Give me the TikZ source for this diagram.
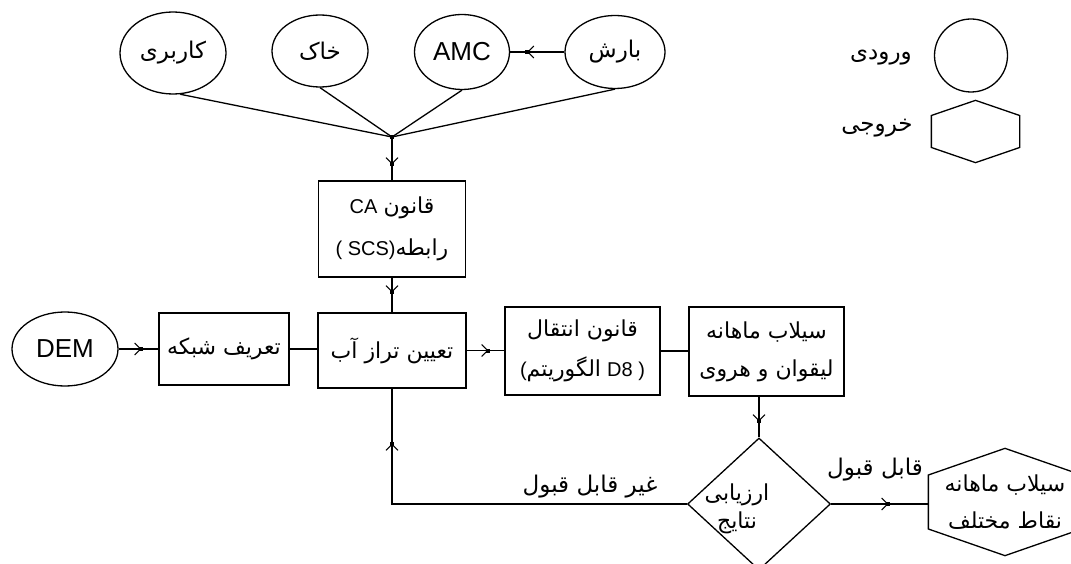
\documentclass[tikz,border=0pt]{standalone}
\usepackage{fontspec}
\usetikzlibrary{shapes.geometric,decorations.markings,arrows.meta,calc}
\setmainfont{Liberation Sans}
\newfontfamily\arabicfont[Script=Arabic]{DejaVu Sans}
\TeXXeTstate=1
\newcommand{\fa}[1]{{\arabicfont\beginR #1\endR}}
\newcommand{\aw}[1]{{\arabicfont #1}}
\newcommand{\lt}[1]{{\normalfont\fontsize{20}{24}\selectfont #1}}
\begin{document}
\begin{tikzpicture}[x=1pt,y=-1pt,line width=1.3pt,
  inp/.style={ellipse,draw,inner sep=0pt,font=\fontsize{23}{26}\selectfont},
  stepbox/.style={rectangle,draw,inner sep=0pt,align=center,font=\fontsize{22}{38}\selectfont},
  lbl/.style={inner sep=0pt,align=center,font=\fontsize{23}{26}\selectfont},
  big/.style={font=\fontsize{26}{30}\selectfont},
  midarrow/.style={postaction={decorate},decoration={markings,
    mark=at position #1 with {\arrow[line width=1pt]{Straight Barb[length=6pt,width=12pt]}
      \fill (-2pt,-2pt) rectangle (2pt,2pt);}}}
]
\fill[white] (0,0) rectangle (1071,564);
\clip (0,0) rectangle (1071,564);

% inputs
\node[inp,minimum width=106,minimum height=82] (kar) at (173,53) {\fa{کاربری}};
\node[inp,minimum width=96,minimum height=72] (khak) at (320,51) {\fa{خاک}};
\node[inp,big,minimum width=95,minimum height=75] (amc) at (462,52) {AMC};
\node[inp,minimum width=100,minimum height=73] (barsh) at (615,52) {\fa{بارش}};
\coordinate (jn) at (392,137);

% legend
\node[inp,minimum width=73,minimum height=73] (leg1) at (971,55.5) {};
\node[lbl] (tin) at (881,58) {\fa{ورودی}};
\node[minimum width=87,minimum height=61,inner sep=0pt] (leg2) at (975.5,131.5) {};
\draw (leg2.north) -- ([yshift=16pt]leg2.east) -- ([yshift=-16pt]leg2.east) -- (leg2.south)
  -- ([yshift=-16pt]leg2.west) -- ([yshift=16pt]leg2.west) -- cycle;
\node[lbl] (tout) at (877,128) {\fa{خروجی}};

% process
\node[stepbox,minimum width=147,minimum height=96,font=\fontsize{22}{42}\selectfont] (ca) at (392,229)
  {\lt{CA} \aw{قانون}\\ \lt{( SCS)}\aw{رابطه}};
\node[inp,big,minimum width=106,minimum height=74] (dem) at (65,349) {DEM};
\node[stepbox,minimum width=130,minimum height=72] (grid) at (224,349) {\fa{تعریف شبکه}};
\node[stepbox,minimum width=148,minimum height=75] (tayin) at (392,350.5) {\fa{تعیین تراز آب}};
\node[stepbox,minimum width=155,minimum height=88,font=\fontsize{22}{40}\selectfont] (enteqal) at (582.5,351)
  {\fa{قانون انتقال}\\ \lt{(}\aw{الگوریتم} \lt{D8 )}};
\node[stepbox,minimum width=155,minimum height=89] (sailab) at (766.5,351.5)
  {\fa{سیلاب ماهانه}\\ \fa{لیقوان و هروی}};
\node[diamond,draw,inner sep=0pt,minimum width=143,minimum height=132] (dia) at (759,504) {};
\node[lbl,font=\fontsize{22}{28}\selectfont] (diatext) at (737,509) {\fa{ارزیابی}\\ \fa{نتایج}};
\node[lbl,minimum width=152,minimum height=106,font=\fontsize{22}{37}\selectfont] (out) at (1005,502)
  {\fa{سیلاب ماهانه}\\ \fa{نقاط مختلف}};
\draw (out.north) -- ([yshift=27pt]out.east) -- ([yshift=-27pt]out.east) -- (out.south)
  -- ([yshift=-27pt]out.west) -- ([yshift=27pt]out.west) -- cycle;
\node[lbl] (nok) at (590,487) {\fa{غیر قابل قبول}};
\node[lbl] (ok) at (875,470) {\fa{قابل قبول}};

% connectors
\draw (kar.-80) -- (jn);
\draw (khak.south) -- (jn);
\draw (amc.south) -- (jn);
\draw (barsh.south) -- (jn);
\fill ([shift={(-2pt,-2pt)}]jn) rectangle ++(4pt,4pt);
\draw[midarrow=-17pt] (barsh) -- (amc);
\draw[midarrow=-16pt] (jn) -- (jn |- ca.north);
\draw[midarrow=-20pt] (ca.south) -- (tayin.north);
\draw[midarrow=-17pt] (dem) -- (grid);
\draw (grid.east) -- (grid.east -| tayin.west);
\draw[midarrow=-16pt] (tayin.east) -- (tayin.east -| enteqal.west);
\draw (enteqal.east) -- (enteqal.east -| sailab.west);
\draw[midarrow=-16pt] (sailab.south -| dia.north) -- (dia.north);
\draw[midarrow=-40pt] (dia.east) -- (dia.east -| out.west);
\draw[midarrow=-55pt] (dia.west) -| (tayin.south);
\end{tikzpicture}
\end{document}
